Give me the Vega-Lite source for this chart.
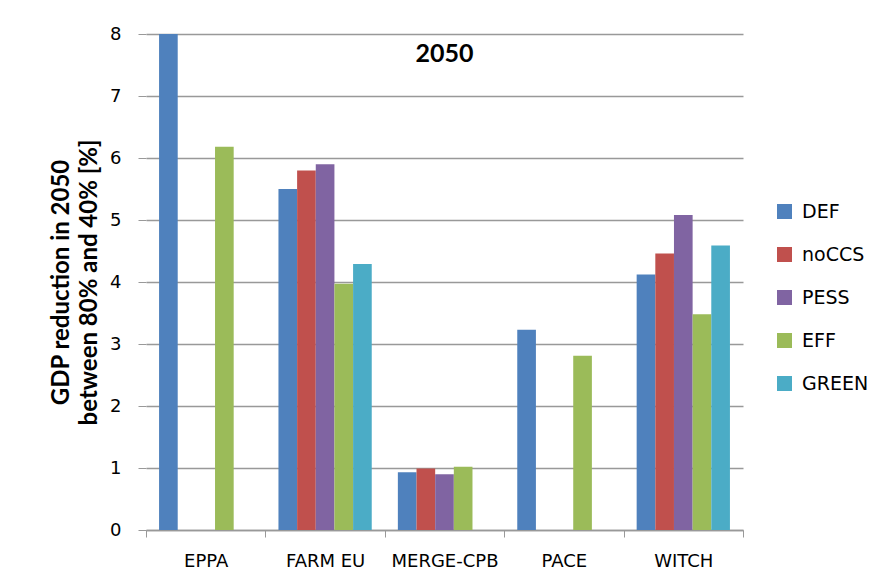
{
  "$schema": "https://vega.github.io/schema/vega-lite/v6.json",
  "width": 597,
  "height": 496,
  "autosize": {"type": "none"},
  "padding": {"left": 146, "top": 34, "right": 138, "bottom": 49},
  "background": "white",
  "title": {
    "text": "2050",
    "font": "Lato",
    "fontSize": 25,
    "fontWeight": "bold",
    "color": "#000000",
    "anchor": "middle",
    "dy": 46
  },
  "data": {
    "values": [
      {"model": "EPPA", "scenario": "DEF", "value": 8.0},
      {"model": "EPPA", "scenario": "EFF", "value": 6.18},
      {"model": "FARM EU", "scenario": "DEF", "value": 5.5},
      {"model": "FARM EU", "scenario": "noCCS", "value": 5.8},
      {"model": "FARM EU", "scenario": "PESS", "value": 5.9},
      {"model": "FARM EU", "scenario": "EFF", "value": 3.97},
      {"model": "FARM EU", "scenario": "GREEN", "value": 4.29},
      {"model": "MERGE-CPB", "scenario": "DEF", "value": 0.93},
      {"model": "MERGE-CPB", "scenario": "noCCS", "value": 0.99},
      {"model": "MERGE-CPB", "scenario": "PESS", "value": 0.9},
      {"model": "MERGE-CPB", "scenario": "EFF", "value": 1.02},
      {"model": "PACE", "scenario": "DEF", "value": 3.23},
      {"model": "PACE", "scenario": "EFF", "value": 2.81},
      {"model": "WITCH", "scenario": "DEF", "value": 4.12},
      {"model": "WITCH", "scenario": "noCCS", "value": 4.46},
      {"model": "WITCH", "scenario": "PESS", "value": 5.08},
      {"model": "WITCH", "scenario": "EFF", "value": 3.48},
      {"model": "WITCH", "scenario": "GREEN", "value": 4.59}
    ]
  },
  "mark": {"type": "bar"},
  "encoding": {
    "x": {
      "field": "model",
      "type": "nominal",
      "sort": ["EPPA", "FARM EU", "MERGE-CPB", "PACE", "WITCH"],
      "scale": {"paddingInner": 0, "paddingOuter": 0},
      "axis": {
        "title": null,
        "labelAngle": 0,
        "labelFont": "DejaVu Sans",
        "labelFontSize": 18,
        "labelColor": "#000000",
        "labelPadding": 15,
        "tickBand": "extent",
        "tickColor": "#999999",
        "tickSize": 7,
        "domainColor": "#999999",
        "domainWidth": 1.5,
        "grid": false
      }
    },
    "xOffset": {
      "field": "scenario",
      "type": "nominal",
      "scale": {"domain": ["DEF", "noCCS", "PESS", "EFF", "GREEN"], "paddingOuter": 0.7, "paddingInner": 0}
    },
    "y": {
      "field": "value",
      "type": "quantitative",
      "scale": {"domain": [0, 8], "nice": false},
      "axis": {
        "title": ["GDP reduction in 2050", "between 80% and 40% [%]"],
        "titleFont": "Lato",
        "titleFontSize": 24,
        "titleFontWeight": "bold",
        "titleColor": "#000000",
        "titleLineHeight": 28,
        "titleX": -73,
        "titleBaseline": "bottom",
        "titleAngle": -90,
        "values": [0, 1, 2, 3, 4, 5, 6, 7, 8],
        "labelFont": "DejaVu Sans",
        "labelFontSize": 18,
        "labelColor": "#000000",
        "labelPadding": 17,
        "tickColor": "#999999",
        "tickSize": 8,
        "domain": false,
        "grid": true,
        "gridColor": "#999999",
        "gridWidth": 1.5
      }
    },
    "color": {
      "field": "scenario",
      "type": "nominal",
      "scale": {
        "domain": ["DEF", "noCCS", "PESS", "EFF", "GREEN"],
        "range": ["#4F81BD", "#C0504D", "#8064A2", "#9BBB59", "#4BACC6"]
      },
      "legend": {
        "title": null,
        "orient": "none",
        "legendX": 629,
        "legendY": 168,
        "direction": "vertical",
        "symbolType": "square",
        "symbolSize": 225,
        "symbolStrokeWidth": 0,
        "labelFont": "DejaVu Sans",
        "labelFontSize": 19,
        "labelColor": "#000000",
        "labelOffset": 8,
        "rowPadding": 23,
        "padding": 0
      }
    }
  },
  "config": {
    "view": {"stroke": null}
  }
}
